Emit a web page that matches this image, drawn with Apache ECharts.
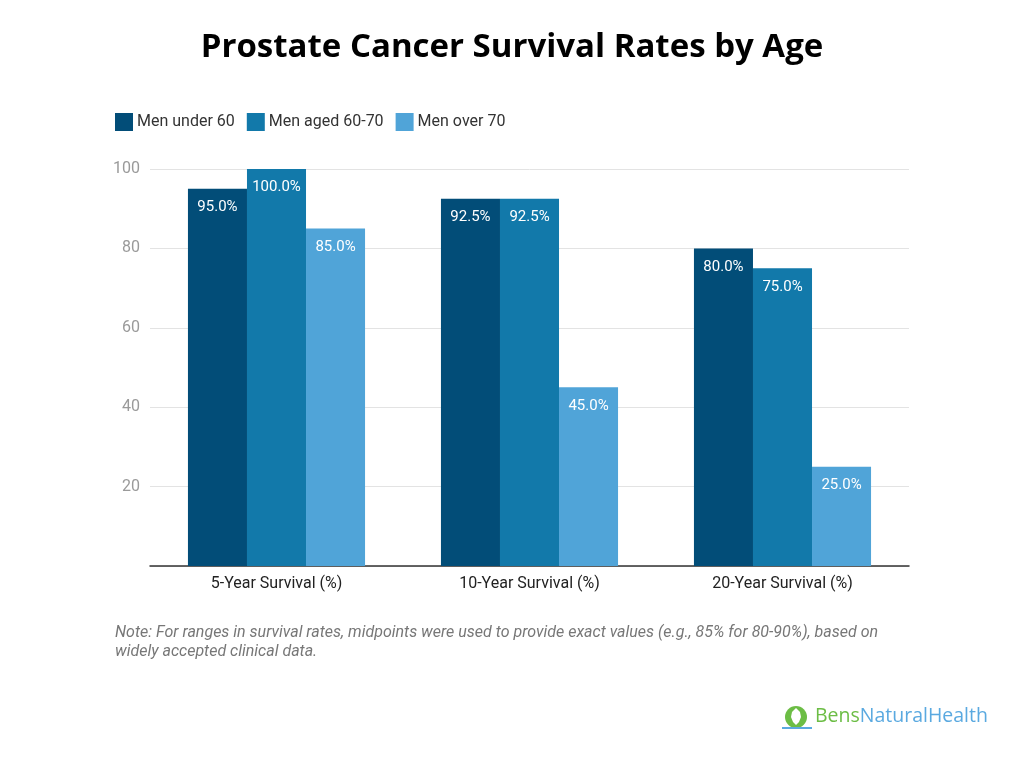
<!DOCTYPE html>
<html><head><meta charset="utf-8">
<script src="https://cdn.jsdelivr.net/npm/echarts@6/dist/echarts.min.js"></script>
<style>html,body{margin:0;padding:0;background:#fff}#c{width:1024px;height:768px}</style>
</head><body><div id="c"></div>
<script>
const categories = ['5-Year Survival (%)', '10-Year Survival (%)', '20-Year Survival (%)'];
const seriesNames = ['Men under 60', 'Men aged 60-70', 'Men over 70'];
const under60 = [95.0, 92.5, 80.0];
const aged6070 = [100.0, 92.5, 75.0];
const over70 = [85.0, 45.0, 25.0];
const yTicks = [0, 100, 20];
const colors = ['#024d78', '#1279aa', '#50a4d8'];

const chart = echarts.init(document.getElementById('c'));
const mk = (name, data, color) => ({
  name, type: 'bar', data, barGap: 0, barCategoryGap: '30%',
  itemStyle: { color },
  label: { show: true, position: 'insideTop', distance: 11, color: '#fff', fontSize: 15, fontFamily: 'Roboto',
    formatter: p => p.value.toFixed(1) + '%' }
});
chart.setOption({
  animation: false,
  title: { text: 'Prostate Cancer Survival Rates by Age', left: 'center', top: 26,
    textStyle: { fontFamily: 'Open Sans', fontWeight: 'bold', fontSize: 33, color: '#000' } },
  legend: { left: 110, top: 108, itemWidth: 18, itemHeight: 18, itemGap: 12, icon: 'rect',
    textStyle: { fontFamily: 'Roboto', fontSize: 16, color: '#333', padding: [0, 0, 0, -1] }, data: seriesNames },
  grid: { left: 150, right: 115, top: 169, bottom: 202, containLabel: false },
  xAxis: { type: 'category', data: categories,
    axisLine: { lineStyle: { color: '#333', width: 1.5 } }, axisTick: { show: false },
    axisLabel: { color: '#222', fontFamily: 'Roboto', fontSize: 16, margin: 10 } },
  yAxis: { type: 'value', min: yTicks[0], max: yTicks[1], interval: yTicks[2],
    axisLine: { show: false }, axisTick: { show: false },
    splitLine: { lineStyle: { color: '#e3e3e3' } },
    axisLabel: { color: '#9a9a9a', fontFamily: 'Roboto', fontSize: 16, margin: 10,
      formatter: v => v === 0 ? '' : v } },
  series: [mk(seriesNames[0], under60, colors[0]), mk(seriesNames[1], aged6070, colors[1]), mk(seriesNames[2], over70, colors[2])],
  graphic: [
    { type: 'text', left: 115, top: 623, style: { text: 'Note: For ranges in survival rates, midpoints were used to provide exact values (e.g., 85% for 80-90%), based on\nwidely accepted clinical data.',
      fill: '#777', font: 'italic 16px Roboto', lineHeight: 19 } },
    { type: 'circle', shape: { cx: 796, cy: 717, r: 11 }, style: { fill: '#6cbd45' } },
    { type: 'polygon', shape: { points: [[796, 708], [800, 712], [801, 717], [799, 722], [796, 725], [793, 722], [791, 717], [792, 712]] }, style: { fill: '#fff' } },
    { type: 'line', shape: { x1: 782, y1: 728, x2: 812, y2: 728 }, style: { stroke: '#5aa9e0', lineWidth: 2 } },
    { type: 'text', left: 815, top: 706, style: { rich: {
        g: { fill: '#6cbd45', font: '19.5px "Open Sans"' }, b: { fill: '#5aa9e0', font: '19.5px "Open Sans"' } },
      text: '{g|Bens}{b|NaturalHealth}' } }
  ]
});
</script></body></html>
